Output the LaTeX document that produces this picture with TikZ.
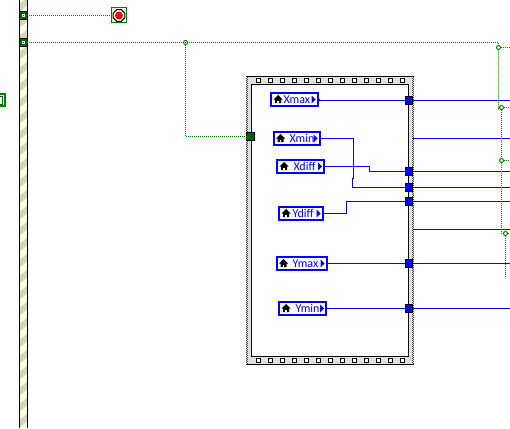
\documentclass[tikz,border=0pt]{standalone}
\usepackage{fontspec}
\setsansfont{Carlito}
\usetikzlibrary{shapes.geometric}
\definecolor{my_blue}{HTML}{0000FF}
\definecolor{my_green}{HTML}{008000}
\definecolor{my_darkgreen}{HTML}{006600}
\definecolor{my_cream}{HTML}{FFFFE6}
\definecolor{my_stripe}{HTML}{D6D6BE}
\definecolor{my_frame}{HTML}{E0E0E0}

\begin{document}
\begin{tikzpicture}[
    x=1pt, y=-1pt,  % one drawing unit -> one pixel of the screenshot
    line width=1pt,
    wire/.style={my_blue, line width=1pt},
    errwire/.style={my_green, line width=1pt, dash pattern=on 1pt off 1pt},
    localvar/.style={draw=my_blue, fill=white, line width=2pt, rectangle,
        minimum height=13.5pt, inner sep=0pt, outer sep=0pt},
    tunnel/.style={draw=black, fill=my_blue, rectangle, minimum size=7.5pt,
        inner sep=0pt, outer sep=0pt},
    terminal/.style={draw=black, fill=my_darkgreen, rectangle, minimum size=7.5pt,
        inner sep=0pt, outer sep=0pt},
    junction/.style={draw=my_green, fill=my_cream, circle, line width=1pt,
        minimum size=4pt, inner sep=0pt, outer sep=0pt},
]
\useasboundingbox (0,0) rectangle (510,428);
\clip (0,0) rectangle (510,428);

% ── Striped while-loop border ────────────────────────────────────────────────
\fill[my_cream] (19,0) rectangle (28,428);
\begin{scope}
    \clip (19,0) rectangle (28,428);
    \foreach \ypos in {-12,4,...,436} {
        \fill[my_stripe] (19,\ypos) -- (28,\ypos-7) -- (28,\ypos+1) -- (19,\ypos+8) -- cycle;
    }
\end{scope}
\draw[black] (19.5,0) -- (19.5,428);
\draw[black] (27.5,0) -- (27.5,428);

% ── Cut-off control at the left edge ─────────────────────────────────────────
\node[draw=my_green, fill=my_cream, line width=2pt, rectangle, minimum width=10pt,
    minimum height=12pt, inner sep=0pt] (ctl_left) at (0,100) {};
\node[draw=my_darkgreen, fill=white, rectangle, minimum width=5pt,
    minimum height=8pt, inner sep=0pt] (ctl_inner) at (0,100) {};

% ── Sequence frame ───────────────────────────────────────────────────────────
\fill[my_frame] (246,76) rectangle (414,365);
\draw[black] (246,76.5) -- (414,76.5);
\draw[black] (246,364.5) -- (414,364.5);
\foreach \xedge in {246.5,412.5} {
    \draw[black!75, dash pattern=on 1pt off 1pt] (\xedge,76) -- (\xedge,365);
    \draw[black!75, dash pattern=on 1pt off 1pt, dash phase=1pt] (\xedge+1,76) -- (\xedge+1,365);
}
\draw[black, fill=white] (251.5,84.5) rectangle (408.5,356.5);
% film holes
\foreach \xhole in {258,270,...,402} {
    \draw[black, fill=white] (\xhole-2,78.5) rectangle (\xhole+2,82.5);
    \draw[black, fill=white] (\xhole-2,358.5) rectangle (\xhole+2,362.5);
}

% ── Local variables ──────────────────────────────────────────────────────────
% name / left / right / centre y / text start
\foreach \lname/\xa/\xb/\cy/\xtext/\ltext in {
    xmax/271/317.5/99.5/283/Xmax,
    xmin/273.5/319.5/138.5/289/Xmin,
    xdiff/277/324/166.5/293/Xdiff,
    ydiff/279/322.5/213.5/292/Ydiff,
    ymax/276.5/326.5/263.5/292/Ymax,
    ymin/279/326/308.5/295/Ymin} {
    \node[localvar, minimum width={(\xb-\xa)*1pt}] (\lname) at ({(\xa+\xb)/2},\cy) {};
    \fill[black] (\xa+7,\cy-4.5) -- (\xa+11.5,\cy) -- (\xa+10,\cy) -- (\xa+10,\cy+3.5)
        -- (\xa+4,\cy+3.5) -- (\xa+4,\cy) -- (\xa+2.5,\cy) -- cycle;
    \fill[white] (\xa+6.2,\cy+1) rectangle (\xa+7.8,\cy+3.5);
    \fill[my_blue] (\xb-6,\cy-4) -- (\xb-2,\cy) -- (\xb-6,\cy+4) -- cycle;
    \node[anchor=west, inner sep=0pt, text=my_blue, font=\sffamily\fontsize{12}{12}\selectfont]
        (\lname_text) at (\xtext,\cy) {\ltext};
}

% ── Tunnels on the right side of the frame ───────────────────────────────────
\foreach \lname/\cy in {xmax/100.5, xdiff/171.5, xmin/187.5, ydiff/201.5, ymax/263.5, ymin/308.5} {
    \coordinate (out_\lname) at (510,\cy);
    \node[tunnel] (tun_\lname) at (409,\cy) {};
}
\coordinate (in_free_a) at (413,138.5);
\coordinate (out_free_a) at (510,138.5);
\coordinate (in_free_b) at (413,229.5);
\coordinate (out_free_b) at (510,229.5);

% ── Blue wires ───────────────────────────────────────────────────────────────
\draw[wire] (xmax.east) -- ++(2,0) |- (tun_xmax.west);
\draw[wire] (xmin.east) -- ++(34,0) -- ++(0,40) -- ++(-1,0) |- (tun_xmin.west);
\draw[wire] (xdiff.east) -- ++(45,0) |- (tun_xdiff.west);
\draw[wire] (ydiff.east) -- ++(24,0) |- (tun_ydiff.west);
\draw[wire] (ymax.east) -- (tun_ymax.west);
\draw[wire] (ymin.east) -- (tun_ymin.west);
\foreach \lname in {xmax,xdiff,xmin,ydiff,ymax,ymin} {
    \draw[wire] (tun_\lname.east) -- (out_\lname);
}
\draw[wire] (in_free_a) -- (out_free_a);
\draw[wire] (in_free_b) -- (out_free_b);

% ── Error wires and terminals ────────────────────────────────────────────────
\node[terminal] (term_stop) at (23.5,15.5) {};
\node[terminal] (term_main) at (23.5,42.5) {};
\foreach \tname in {term_stop,term_main} {
    \fill[white] (\tname.center) ++(-1.5,-1.5) rectangle ++(3,3);
    \fill[my_darkgreen] (\tname.center) ++(-0.5,-0.5) rectangle ++(1,1);
}
% stop button
\node[draw=my_green, fill=my_cream, rectangle, minimum size=15pt, inner sep=0pt,
    outer sep=0pt] (btn_stop) at (119,15.5) {};
\node[draw=black, fill=white, regular polygon, regular polygon sides=8,
    minimum size=12.5pt, inner sep=0pt] (btn_ring) at (119,15.5) {};
\node[fill=red, circle, minimum size=8pt, inner sep=0pt] (btn_red) at (119,15.5) {};

\node[terminal] (tun_err) at (250.5,136.5) {};
\node[junction] (junc_a) at (185.5,42.5) {};
\node[junction] (junc_b) at (498.5,47.5) {};
\node[junction] (junc_c) at (501.5,107.5) {};
\node[junction] (junc_d) at (501.5,160.5) {};
\node[junction] (junc_e) at (505.5,233.5) {};
\coordinate (end_bottom) at (505.5,277);

\draw[errwire] (term_stop.east) -- (btn_stop.west);
\draw[errwire] (term_main.east) -| (junc_b.north);
\draw[errwire] (junc_a.south) |- (tun_err.west);
\draw[errwire] (junc_b.south) -- ++(0,59) -- (junc_c.west);
\draw[errwire] (junc_c.south) -- (junc_d.north);
\draw[errwire] (junc_d.south) -- ++(0,71) -- (junc_e.west);
\draw[errwire] (junc_e.south) -- (end_bottom);
\foreach \jname/\cy in {junc_b/47.5, junc_c/107.5, junc_d/160.5, junc_e/233.5} {
    \coordinate (stub_\jname) at (510,\cy);
    \draw[errwire] (\jname.east) -- (stub_\jname);
}

\end{tikzpicture}
\end{document}
